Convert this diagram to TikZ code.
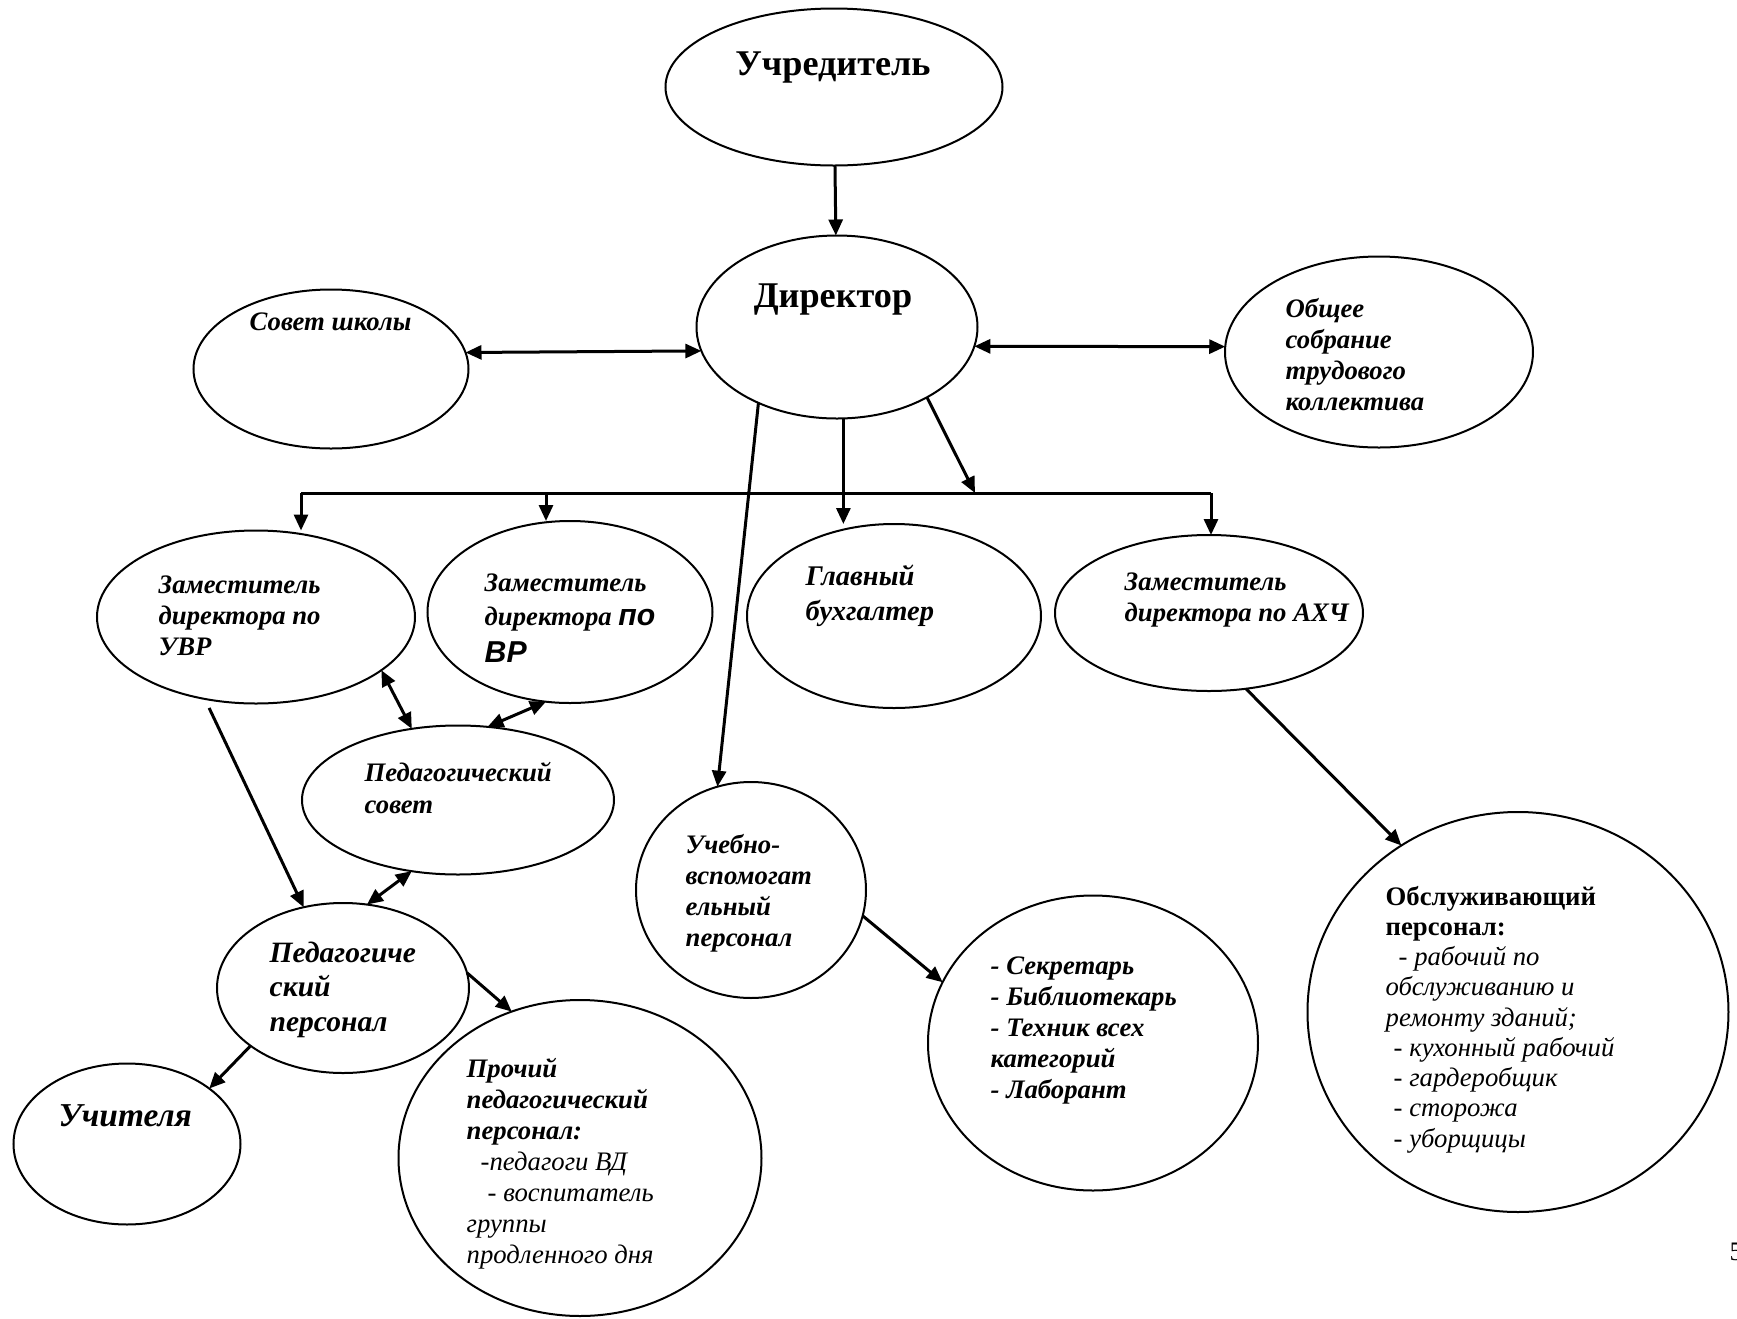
\documentclass[tikz,border=0pt]{standalone}
\usepackage{fontspec}
\setmainfont{Liberation Serif}
\setsansfont{Liberation Sans}
\usetikzlibrary{shapes.geometric,arrows.meta}

\begin{document}
\begin{tikzpicture}[x=1mm, y=-1mm, >={Triangle[length=1.6mm,width=1.4mm]},
  oval/.style={ellipse, draw, line width=0.2mm, inner sep=0, outer sep=0},
  txt/.style={anchor=base west, align=left, inner sep=0,
    font=\fontsize{7.6}{8.8}\selectfont\bfseries\itshape},
  big/.style={anchor=base, inner sep=0, font=\fontsize{10.3}{12}\selectfont\bfseries},
  line/.style={line width=0.3mm}]

\useasboundingbox (0,0) rectangle (173.7,131.9);

% ovals
\node[oval, minimum width=33.7mm, minimum height=15.7mm] (uchr) at (83.4,8.7) {};
\node[oval, minimum width=28.1mm, minimum height=18.3mm] (dir) at (83.7,32.7) {};
\node[oval, minimum width=27.5mm, minimum height=15.9mm] (sovet) at (33.1,36.9) {};
\node[oval, minimum width=30.8mm, minimum height=19.1mm] (obshee) at (137.9,35.2) {};
\node[oval, minimum width=31.8mm, minimum height=17.3mm] (zuvr) at (25.6,61.7) {};
\node[oval, minimum width=28.5mm, minimum height=18.2mm] (zvr) at (57.0,61.2) {};
\node[oval, minimum width=29.4mm, minimum height=18.4mm] (glav) at (89.4,61.6) {};
\node[oval, minimum width=30.8mm, minimum height=15.6mm] (zahch) at (120.9,61.3) {};
\node[oval, minimum width=31.2mm, minimum height=14.9mm] (pedsov) at (45.8,80.0) {};
\node[oval, minimum width=23.0mm, minimum height=21.6mm] (uvp) at (75.1,89.0) {};
\node[oval, minimum width=25.2mm, minimum height=17.0mm] (pedpers) at (34.3,98.8) {};
\node[oval, minimum width=22.7mm, minimum height=16.1mm] (uchit) at (12.7,114.4) {};
\node[oval, minimum width=36.3mm, minimum height=31.6mm] (proch) at (58.0,115.8) {};
\node[oval, minimum width=33.0mm, minimum height=29.5mm] (sekr) at (109.3,104.3) {};
\node[oval, minimum width=42.1mm, minimum height=40.0mm] (obsl) at (151.8,101.2) {};

% texts (placed by the baseline of their last line)
\node[big] (uchrt) at (83.3,7.5) {Учредитель};
\node[big] (dirt) at (83.3,30.7) {Директор};
\node[txt] (sovett) at (24.9,33.0) {Совет школы};
\node[txt] (obsheet) at (128.5,41.0) {Общее\\собрание\\трудового\\коллектива};
\node[txt] (zuvrt) at (15.8,65.5) {Заместитель\\директора по\\УВР};
\node[txt] (zvrt) at (48.4,66.2) {Заместитель\\[0.3mm]директора
  {\sffamily\fontsize{8.6}{9}\selectfont по}\\[0.6mm]{\sffamily\fontsize{8.6}{9}\selectfont ВР}};
\node[txt, font=\fontsize{8.1}{9.7}\selectfont\bfseries\itshape] (glavt) at (80.5,62.0) {Главный\\бухгалтер};
\node[txt] (zahcht) at (112.4,62.1) {Заместитель\\директора по АХЧ};
\node[txt, font=\fontsize{7.6}{9.1}\selectfont\bfseries\itshape] (pedsovt) at (36.4,81.3) {Педагогический\\совет};
\node[txt] (uvpt) at (68.5,94.6) {Учебно-\\вспомогат\\ельный\\персонал};
\node[txt, font=\fontsize{8.4}{9.8}\selectfont\bfseries\itshape] (pedperst) at (26.9,103.1) {Педагогиче\\ский\\персонал};
\node[txt, font=\fontsize{9.5}{10}\selectfont\bfseries\itshape] (uchitt) at (5.8,112.6) {Учителя};
\node[txt, font=\fontsize{7.6}{8.8}\selectfont\itshape] (procht) at (46.6,126.3)
  {\textbf{Прочий}\\\textbf{педагогический}\\\textbf{персонал:}\\\hspace*{1.4mm}-педагоги ВД\\\hspace*{2.1mm}- воспитатель\\группы\\продленного дня};
\node[txt] (sekrt) at (99.0,109.8) {- Секретарь\\- Библиотекарь\\- Техник всех\\категорий\\- Лаборант};
\node[txt, font=\fontsize{7.6}{8.6}\selectfont\itshape] (obslt) at (138.5,114.7)
  {{\upshape\bfseries Обслуживающий}\\{\upshape\bfseries персонал:}\\\hspace*{1.3mm}- рабочий по\\обслуживанию и\\ремонту зданий;\\\hspace*{0.8mm}- кухонный рабочий\\\hspace*{0.8mm}- гардеробщик\\\hspace*{0.8mm}- сторожа\\\hspace*{0.8mm}- уборщицы};
\node[anchor=base west, inner sep=0, font=\fontsize{7.6}{8.8}\selectfont] (pagenum) at (172.9,126.0) {5};

% bus
\coordinate (busl) at (30.1,49.3);
\coordinate (busb) at (54.6,49.3);
\coordinate (busk) at (97.5,49.3);
\coordinate (busr) at (121.1,49.3);
\draw[line] (busl) -- (busr);

% connectors
\draw[line, ->] (uchr) -- (dir);
\draw[line, <->] (sovet.7.7) -- (dir.190);
\draw[line, <->] (dir.-8) -- (obshee.178);
\draw[line, ->] (dir.-38) -- (busk);
\draw[line, ->] (dir.-86) -- (dir.-86 |- glav.north);
\draw[line, ->] (dir.-136) -- (uvp.108);
\draw[line, ->] (busl) -- (busl |- zuvr.north);
\draw[line, ->] (busb) -- (busb |- zvr.north);
\draw[line, ->] (busr) -- (busr |- zahch.north);
\draw[line, <->] (zuvr.-23) -- (pedsov.123);
\draw[line, <->] (zvr.-105) -- (pedsov.68);
\draw[line, ->, shorten <=1mm] (zuvr.-122) -- (pedpers.116);
\draw[line, <->] (pedsov.-123) -- (pedpers.74);
\draw[line, ->] (pedpers.-148) -- (uchit.34);
\draw[line, ->] (pedpers.7) -- (proch.115);
\draw[line, ->] (uvp.-13) -- (sekr.158);
\draw[line, ->] (zahch.-64) -- (obsl.125);

\end{tikzpicture}
\end{document}
